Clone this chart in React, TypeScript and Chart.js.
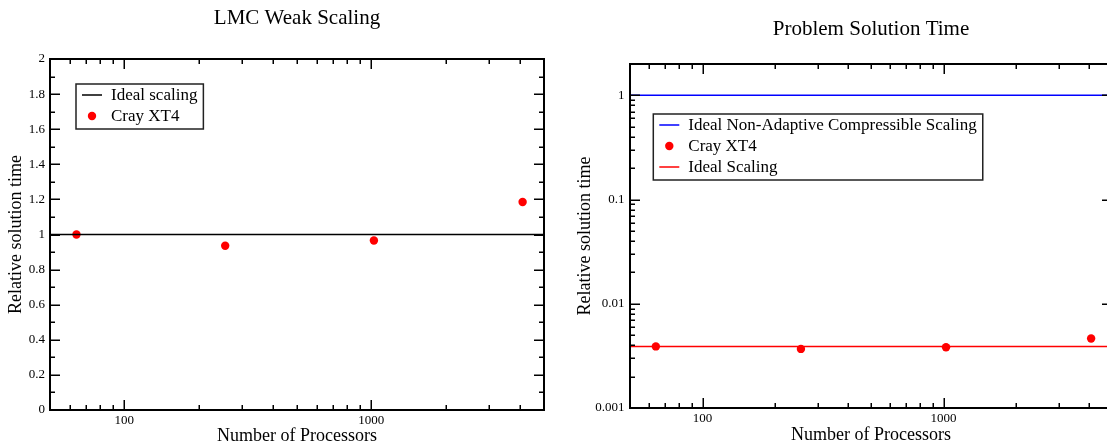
import React, { useEffect, useRef } from "react";
import { Chart, registerables } from "chart.js";

Chart.register(...registerables);

const FONT = '"Liberation Serif", "Times New Roman", serif';

// ---- data ----
const processors = [64, 256, 1024, 4096];
const weakScalingTime = [1.0, 0.936, 0.966, 1.185];
const solutionTime = [0.0039, 0.00369, 0.00383, 0.00464];
const idealRange = [50, 5000];
const idealWeakScaling = [1, 1];
const idealNonAdaptive = [1, 1];
const idealScaling = [0.0039, 0.0039];

// ---- ticks ----
const xMajorTicks = [100, 1000];
const xMinorTicks = [60, 70, 80, 90, 200, 300, 400, 500, 600, 700, 800, 900, 2000, 3000, 4000];
const weakYMajorTicks = [0, 0.2, 0.4, 0.6, 0.8, 1, 1.2, 1.4, 1.6, 1.8, 2];
const weakYMinorTicks = [0.1, 0.3, 0.5, 0.7, 0.9, 1.1, 1.3, 1.5, 1.7, 1.9];
const timeYMajorTicks = [0.001, 0.01, 0.1, 1];
const timeYMinorTicks = [
  0.002, 0.003, 0.004, 0.005, 0.006, 0.007, 0.008, 0.009,
  0.02, 0.03, 0.04, 0.05, 0.06, 0.07, 0.08, 0.09,
  0.2, 0.3, 0.4, 0.5, 0.6, 0.7, 0.8, 0.9,
];

const xTitle = "Number of Processors";
const yTitle = "Relative solution time";

type LegendItem = { dataset: number; kind: "line" | "point" };
type Deco = {
  title: string;
  titleY: number;
  yTitleX: number;
  xTitleY: number;
  xMajor: number[];
  xMinor: number[];
  yMajor: number[];
  yMinor: number[];
  legend: LegendItem[];
  legendDx: number;
  legendDy: number;
};

const POINT_R = 4.2;

function makeDeco(d: Deco) {
  return {
    id: "deco",
    afterDraw(chart: any) {
      const { ctx, chartArea: a, scales } = chart;
      const xs = scales.x;
      const ys = scales.y;
      ctx.save();
      // inward tick marks on all sides
      ctx.strokeStyle = "#000";
      ctx.lineWidth = 1.5;
      ctx.beginPath();
      const xt = (vals: number[], len: number) =>
        vals.forEach((v) => {
          const p = Math.round(xs.getPixelForValue(v)) + 0.25;
          ctx.moveTo(p, a.bottom);
          ctx.lineTo(p, a.bottom - len);
          ctx.moveTo(p, a.top);
          ctx.lineTo(p, a.top + len);
        });
      const yt = (vals: number[], len: number) =>
        vals.forEach((v) => {
          const p = Math.round(ys.getPixelForValue(v)) + 0.25;
          ctx.moveTo(a.left, p);
          ctx.lineTo(a.left + len, p);
          ctx.moveTo(a.right, p);
          ctx.lineTo(a.right - len, p);
        });
      xt(d.xMajor, 10);
      xt(d.xMinor, 5);
      yt(d.yMajor, 10);
      yt(d.yMinor, 5);
      ctx.stroke();
      // frame
      ctx.lineWidth = 2;
      ctx.strokeRect(a.left, a.top, a.right - a.left, a.bottom - a.top);

      // titles
      const cx = (a.left + a.right) / 2;
      ctx.fillStyle = "#000";
      ctx.textAlign = "center";
      ctx.textBaseline = "alphabetic";
      ctx.font = `21px ${FONT}`;
      ctx.fillText(d.title, cx, d.titleY);
      ctx.font = `18px ${FONT}`;
      ctx.fillText(xTitle, cx, d.xTitleY);
      ctx.save();
      ctx.translate(d.yTitleX, (a.top + a.bottom) / 2);
      ctx.rotate(-Math.PI / 2);
      ctx.textBaseline = "middle";
      ctx.fillText(yTitle, 0, 0);
      ctx.restore();

      // legend
      ctx.font = `17px ${FONT}`;
      const labels = d.legend.map((l) => chart.data.datasets[l.dataset].label as string);
      const w = Math.max(...labels.map((t) => ctx.measureText(t).width));
      const rowH = 21;
      const n = d.legend.length;
      const bx = a.left + d.legendDx;
      const by = a.top + d.legendDy;
      const bw = 35 + w + 6;
      const bh = 11 + rowH * (n - 1) + 13;
      ctx.fillStyle = "#fff";
      ctx.fillRect(bx, by, bw, bh);
      ctx.strokeStyle = "#222";
      ctx.lineWidth = 1.5;
      ctx.strokeRect(bx, by, bw, bh);
      d.legend.forEach((l, i) => {
        const ds = chart.data.datasets[l.dataset];
        const y = by + 11 + i * rowH;
        if (l.kind === "line") {
          ctx.strokeStyle = ds.borderColor;
          ctx.lineWidth = 1.5;
          ctx.beginPath();
          ctx.moveTo(bx + 6, y);
          ctx.lineTo(bx + 26, y);
          ctx.stroke();
        } else {
          ctx.fillStyle = ds.backgroundColor;
          ctx.beginPath();
          ctx.arc(bx + 16, y, POINT_R, 0, Math.PI * 2);
          ctx.fill();
        }
        ctx.fillStyle = "#000";
        ctx.textAlign = "left";
        ctx.textBaseline = "middle";
        ctx.fillText(labels[i], bx + 35, y + 1);
      });
      ctx.restore();
    },
  };
}

const tickFont = { family: FONT, size: 13 };

function xScale(height: number) {
  return {
    type: "logarithmic",
    min: 50,
    max: 5000,
    grid: { display: false, drawTicks: false },
    border: { display: false },
    afterBuildTicks: (s: any) => {
      s.ticks = xMajorTicks.map((v) => ({ value: v }));
    },
    afterFit: (s: any) => {
      s.height = height;
    },
    ticks: {
      autoSkip: false,
      maxRotation: 0,
      padding: 3,
      color: "#000",
      font: tickFont,
      callback: (v: any) => String(v),
    },
  };
}

function buildWeak(): any {
  return {
    type: "scatter",
    data: {
      datasets: [
        {
          label: "Ideal scaling",
          data: idealRange.map((x, i) => ({ x, y: idealWeakScaling[i] })),
          showLine: true,
          borderColor: "#000000",
          backgroundColor: "#000000",
          borderWidth: 1.5,
          pointRadius: 0,
        },
        {
          label: "Cray XT4",
          data: processors.map((x, i) => ({ x, y: weakScalingTime[i] })),
          showLine: false,
          backgroundColor: "#ff0000",
          borderColor: "#ff0000",
          pointRadius: POINT_R,
          pointBorderWidth: 0,
        },
      ],
    },
    options: {
      animation: false,
      responsive: false,
      events: [],
      layout: { padding: { left: 0, right: 16, top: 59, bottom: 0 } },
      plugins: { legend: { display: false }, tooltip: { enabled: false }, title: { display: false } },
      scales: {
        x: xScale(34),
        y: {
          type: "linear",
          min: 0,
          max: 2,
          grid: { display: false, drawTicks: false },
          border: { display: false },
          afterBuildTicks: (s: any) => {
            s.ticks = weakYMajorTicks.map((v) => ({ value: v }));
          },
          afterFit: (s: any) => {
            s.width = 50;
          },
          ticks: {
            autoSkip: false,
            padding: 5,
            color: "#000",
            font: tickFont,
            callback: (v: any) => String(Number(Number(v).toFixed(3))),
          },
        },
      },
    },
    plugins: [
      makeDeco({
        title: "LMC Weak Scaling",
        titleY: 24,
        yTitleX: 16,
        xTitleY: 441,
        xMajor: xMajorTicks,
        xMinor: xMinorTicks,
        yMajor: weakYMajorTicks,
        yMinor: weakYMinorTicks,
        legend: [
          { dataset: 0, kind: "line" },
          { dataset: 1, kind: "point" },
        ],
        legendDx: 26,
        legendDy: 25,
      }),
    ],
  };
}

function buildTime(): any {
  return {
    type: "scatter",
    data: {
      datasets: [
        {
          label: "Ideal Non-Adaptive Compressible Scaling",
          data: idealRange.map((x, i) => ({ x, y: idealNonAdaptive[i] })),
          showLine: true,
          borderColor: "#0000ff",
          backgroundColor: "#0000ff",
          borderWidth: 1.5,
          pointRadius: 0,
        },
        {
          label: "Ideal Scaling",
          data: idealRange.map((x, i) => ({ x, y: idealScaling[i] })),
          showLine: true,
          borderColor: "#ff0000",
          backgroundColor: "#ff0000",
          borderWidth: 1.5,
          pointRadius: 0,
        },
        {
          label: "Cray XT4",
          data: processors.map((x, i) => ({ x, y: solutionTime[i] })),
          showLine: false,
          backgroundColor: "#ff0000",
          borderColor: "#ff0000",
          pointRadius: POINT_R,
          pointBorderWidth: 0,
        },
      ],
    },
    options: {
      animation: false,
      responsive: false,
      events: [],
      layout: { padding: { left: 0, right: 8, top: 64, bottom: 0 } },
      plugins: { legend: { display: false }, tooltip: { enabled: false }, title: { display: false } },
      scales: {
        x: xScale(36),
        y: {
          type: "logarithmic",
          min: 0.001,
          max: 2,
          grid: { display: false, drawTicks: false },
          border: { display: false },
          afterBuildTicks: (s: any) => {
            s.ticks = timeYMajorTicks.map((v) => ({ value: v }));
          },
          afterFit: (s: any) => {
            s.width = 70;
          },
          ticks: {
            autoSkip: false,
            padding: 5.5,
            color: "#000",
            font: tickFont,
            callback: (v: any) => String(v),
          },
        },
      },
    },
    plugins: [
      makeDeco({
        title: "Problem Solution Time",
        titleY: 35,
        yTitleX: 25,
        xTitleY: 440,
        xMajor: xMajorTicks,
        xMinor: xMinorTicks,
        yMajor: timeYMajorTicks,
        yMinor: timeYMinorTicks,
        legend: [
          { dataset: 0, kind: "line" },
          { dataset: 2, kind: "point" },
          { dataset: 1, kind: "line" },
        ],
        legendDx: 23.3,
        legendDy: 50,
      }),
    ],
  };
}

function ChartCanvas({ build, left }: { build: () => any; left: number }) {
  const ref = useRef<HTMLCanvasElement>(null);
  useEffect(() => {
    const chart = new Chart(ref.current as HTMLCanvasElement, build());
    return () => chart.destroy();
  }, []);
  return (
    <canvas
      ref={ref}
      width={560}
      height={444}
      style={{ position: "absolute", left, top: 0, width: 560, height: 444 }}
    />
  );
}

export default function App() {
  return (
    <div
      style={{
        position: "fixed",
        left: 0,
        top: 0,
        width: 1107,
        height: 444,
        overflow: "hidden",
        background: "#fff",
      }}
    >
      <ChartCanvas build={buildWeak} left={0} />
      <ChartCanvas build={buildTime} left={560} />
    </div>
  );
}
